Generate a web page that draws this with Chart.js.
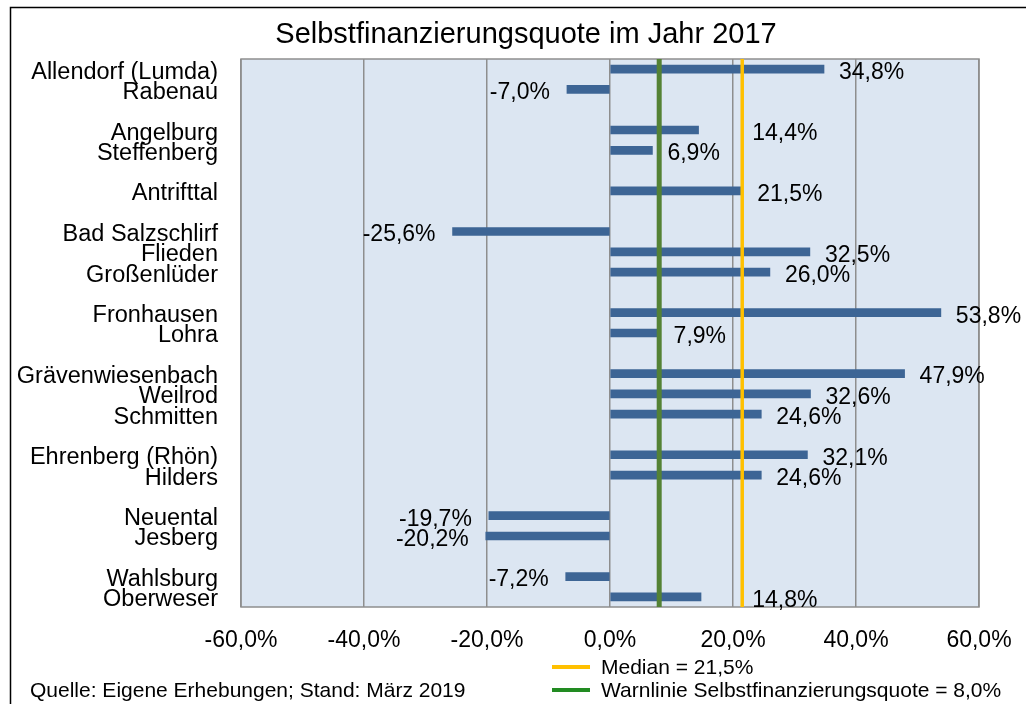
<!DOCTYPE html>
<html>
<head>
<meta charset="utf-8">
<script src="https://cdn.jsdelivr.net/npm/chart.js@4"></script>
<style>
    body { margin: 0; background: #fff; }
    canvas { display: block; }
</style>
</head>
<body>
<canvas id="quote" width="1026" height="704"></canvas>
<script>
// Gemeinden, leere Einträge sind die Abstände zwischen den Gruppen
const gemeinden = ['Allendorf (Lumda)', 'Rabenau', '', 'Angelburg', 'Steffenberg', '', 'Antrifttal', '',
    'Bad Salzschlirf', 'Flieden', 'Großenlüder', '', 'Fronhausen', 'Lohra', '',
    'Grävenwiesenbach', 'Weilrod', 'Schmitten', '', 'Ehrenberg (Rhön)', 'Hilders', '',
    'Neuental', 'Jesberg', '', 'Wahlsburg', 'Oberweser'];
const quoten = [34.8, -7.0, null, 14.4, 6.9, null, 21.5, null,
    -25.6, 32.5, 26.0, null, 53.8, 7.9, null,
    47.9, 32.6, 24.6, null, 32.1, 24.6, null,
    -19.7, -20.2, null, -7.2, 14.8];
const achsenTicks = [-60, -40, -20, 0, 20, 40, 60];
const median = 21.5;
const warnlinie = 8.0;

const schrift = "'Liberation Sans', Arial, Helvetica, sans-serif";
const fmt = v => v.toFixed(1).replace('.', ',') + '%';

const linien = [
    { wert: warnlinie, farbe: '#548235', breite: 5 },
    { wert: median, farbe: '#ffc000', breite: 3.5 }
];

const zeichnen = {
    id: 'zeichnen',
    beforeDraw(chart) {
        const { ctx, chartArea: a } = chart;
        ctx.save();
        ctx.fillStyle = '#dce6f2';
        ctx.fillRect(a.left, a.top, a.right - a.left, a.bottom - a.top);
        ctx.strokeStyle = '#8e8e8e';
        ctx.lineWidth = 1.5;
        ctx.strokeRect(a.left, a.top, a.right - a.left, a.bottom - a.top);

        ctx.strokeStyle = '#000';
        ctx.strokeRect(10.5, 7.5, 2000, 2000);

        ctx.fillStyle = '#000';
        ctx.font = '29px ' + schrift;
        ctx.textAlign = 'center';
        ctx.textBaseline = 'middle';
        ctx.fillText('Selbstfinanzierungsquote im Jahr 2017', 526, 35);

        ctx.font = '21px ' + schrift;
        ctx.textAlign = 'left';
        ctx.fillText('Quelle: Eigene Erhebungen; Stand: März 2019', 30, 691);

        // Legende
        const eintraege = [
            ['#ffc000', 'Median = ' + fmt(median), 667],
            ['#228b22', 'Warnlinie Selbstfinanzierungsquote = ' + fmt(warnlinie), 690]
        ];
        eintraege.forEach(([farbe, text, y]) => {
            ctx.strokeStyle = farbe;
            ctx.lineWidth = 4;
            ctx.beginPath();
            ctx.moveTo(552, y);
            ctx.lineTo(590, y);
            ctx.stroke();
            ctx.fillStyle = '#000';
            ctx.fillText(text, 601, y + 1);
        });
        ctx.restore();
    },
    afterDatasetsDraw(chart) {
        const { ctx, chartArea: a } = chart;
        const x = chart.scales.x;
        const y = chart.scales.y;
        ctx.save();
        linien.forEach(l => {
            const px = x.getPixelForValue(l.wert);
            ctx.strokeStyle = l.farbe;
            ctx.lineWidth = l.breite;
            ctx.beginPath();
            ctx.moveTo(px, a.top);
            ctx.lineTo(px, a.bottom);
            ctx.stroke();
        });

        // Datenbeschriftungen
        ctx.fillStyle = '#000';
        ctx.font = '23px ' + schrift;
        ctx.textBaseline = 'middle';
        quoten.forEach((v, i) => {
            if (v === null) return;
            const text = fmt(v);
            const ende = x.getPixelForValue(v);
            const py = y.getPixelForValue(i) + 3.5;
            if (v < 0) {
                ctx.textAlign = 'right';
                ctx.fillText(text, ende - 17, py);
            } else {
                const w = ctx.measureText(text).width;
                let lx = ende + 15;
                linien.forEach(l => {
                    const lp = x.getPixelForValue(l.wert);
                    if (lp > lx - 4 && lp < lx + w) lx = lp + 10;
                });
                ctx.textAlign = 'left';
                ctx.fillText(text, lx, py);
            }
        });
        ctx.restore();
    }
};

new Chart(document.getElementById('quote'), {
    type: 'bar',
    data: {
        labels: gemeinden,
        datasets: [{
            data: quoten,
            backgroundColor: '#3d6595',
            borderWidth: 0,
            barThickness: 8
        }]
    },
    options: {
        indexAxis: 'y',
        responsive: false,
        animation: false,
        layout: {
            padding: { left: 10, right: 47, top: 59, bottom: 0 }
        },
        plugins: {
            legend: { display: false },
            tooltip: { enabled: false }
        },
        scales: {
            x: {
                min: achsenTicks[0],
                max: achsenTicks[achsenTicks.length - 1],
                afterBuildTicks: scale => {
                    scale.ticks = achsenTicks.map(v => ({ value: v }));
                },
                afterFit: scale => {
                    scale.height = 97;
                    scale.paddingLeft = 0;
                    scale.paddingRight = 0;
                },
                grid: {
                    color: '#8e8e8e',
                    lineWidth: 1.5,
                    drawTicks: false
                },
                border: { display: false },
                ticks: {
                    padding: 20,
                    color: '#000',
                    font: { family: schrift, size: 23 },
                    callback: v => fmt(v),
                    maxRotation: 0
                }
            },
            y: {
                afterFit: scale => { scale.width = 231; },
                grid: { display: false, drawTicks: false },
                border: { display: false },
                ticks: {
                    autoSkip: false,
                    padding: 23,
                    labelOffset: 3,
                    color: '#000',
                    font: { family: schrift, size: 23.5, lineHeight: 1 }
                }
            }
        }
    },
    plugins: [zeichnen]
});
</script>
</body>
</html>
